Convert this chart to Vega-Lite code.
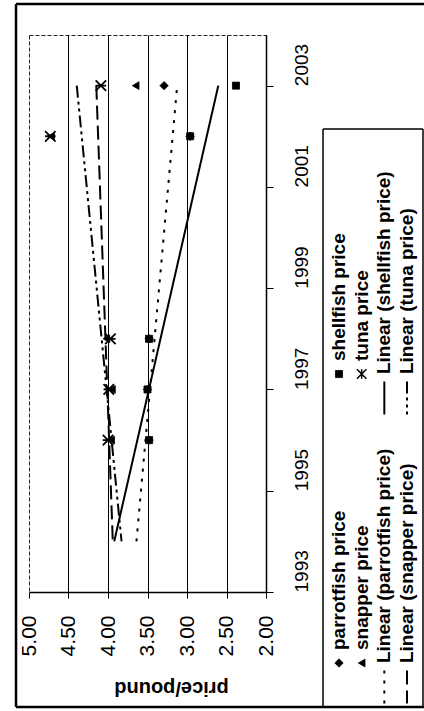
{
  "$schema": "https://vega.github.io/schema/vega-lite/v6.json",
  "background": "white",
  "padding": {"left": 14, "top": 2, "right": 0, "bottom": 0},
  "bounds": "flush",
  "spacing": 57,
  "config": {
    "font": "Liberation Sans",
    "axis": {"labelColor": "black", "titleColor": "black", "domainColor": "black", "tickColor": "black", "labelFlush": false, "labelBound": false, "labelOverlap": false}
  },
  "datasets": {
    "prices": [
      {"series": "shellfish", "year": 1996, "price": 3.48},
      {"series": "shellfish", "year": 1997, "price": 3.50},
      {"series": "shellfish", "year": 1998, "price": 3.48},
      {"series": "shellfish", "year": 2002, "price": 2.96},
      {"series": "shellfish", "year": 2003, "price": 2.38},
      {"series": "snapper", "year": 1996, "price": 3.96},
      {"series": "snapper", "year": 1997, "price": 3.95},
      {"series": "snapper", "year": 1998, "price": 4.02},
      {"series": "snapper", "year": 2002, "price": 4.72},
      {"series": "snapper", "year": 2003, "price": 3.65},
      {"series": "parrotfish", "year": 1996, "price": 3.48},
      {"series": "parrotfish", "year": 1997, "price": 3.50},
      {"series": "parrotfish", "year": 1998, "price": 3.48},
      {"series": "parrotfish", "year": 2002, "price": 2.96},
      {"series": "parrotfish", "year": 2003, "price": 3.29},
      {"series": "tuna", "year": 1996, "price": 4.00},
      {"series": "tuna", "year": 1997, "price": 3.99},
      {"series": "tuna", "year": 1998, "price": 3.97},
      {"series": "tuna", "year": 2002, "price": 4.73},
      {"series": "tuna", "year": 2003, "price": 4.09}
    ],
    "legend": [
      {"label": "parrotfish price", "series": "parrotfish", "kind": "marker", "legendRow": 0, "legendCol": 0},
      {"label": "snapper price", "series": "snapper", "kind": "marker", "legendRow": 1, "legendCol": 0},
      {"label": "Linear (parrotfish price)", "series": "parrotfish", "kind": "trend", "legendRow": 2, "legendCol": 0},
      {"label": "Linear (snapper price)", "series": "snapper", "kind": "trend", "legendRow": 3, "legendCol": 0},
      {"label": "shellfish price", "series": "shellfish", "kind": "marker", "legendRow": 0, "legendCol": 1},
      {"label": "tuna price", "series": "tuna", "kind": "marker", "legendRow": 1, "legendCol": 1},
      {"label": "Linear (shellfish price)", "series": "shellfish", "kind": "trend", "legendRow": 2, "legendCol": 1},
      {"label": "Linear (tuna price)", "series": "tuna", "kind": "trend", "legendRow": 3, "legendCol": 1}
    ]
  },
  "hconcat": [
    {
      "width": 237,
      "height": 557,
      "view": {"stroke": "#222", "strokeDash": [4, 2], "strokeWidth": 1},
      "data": {"name": "prices"},
      "layer": [
        {
          "transform": [{"filter": "datum.series !== 'tuna'"}],
          "mark": {"type": "point", "filled": true, "opacity": 1, "color": "black", "stroke": "black", "strokeWidth": 0.8},
          "encoding": {
            "x": {
              "field": "price", "type": "quantitative",
              "scale": {"domain": [2, 5], "reverse": true, "nice": false, "zero": false},
              "axis": {
                "orient": "bottom",
                "values": [2, 2.5, 3, 3.5, 4, 4.5, 5],
                "tickCount": 7,
                "format": ".2f",
                "labelAngle": 270,
                "labelAlign": "right",
                "labelBaseline": "middle",
                "labelFontSize": 21,
                "labelPadding": 17,
                "tickSize": 6,
                "domainWidth": 1.5,
                "grid": true,
                "gridColor": "black",
                "gridWidth": 1,
                "gridOpacity": {"condition": {"test": "datum.value >= 4.99", "value": 0}, "value": 1},
                "title": "price/pound",
                "titleAngle": 180,
                "titleBaseline": "bottom",
                "titleFontSize": 20,
                "titleFontWeight": "bold",
                "titlePadding": 22,
                "titleX": 142
              }
            },
            "y": {
              "field": "year", "type": "quantitative",
              "scale": {"domain": [1993, 2004], "nice": false, "zero": false},
              "axis": {
                "orient": "right",
                "values": [1993, 1995, 1997, 1999, 2001, 2003],
                "format": "d",
                "labelAngle": 270,
                "labelAlign": "left",
                "labelBaseline": "top",
                "labelFontSize": 19,
                "labelPadding": 19,
                "tickSize": 7,
                "domainWidth": 1.5,
                "grid": false,
                "title": null
              }
            },
            "shape": {"field": "series", "type": "nominal", "scale": {"domain": ["parrotfish", "snapper", "shellfish"], "range": ["diamond", "triangle-left", "square"]}, "legend": null},
            "size": {"field": "series", "type": "ordinal", "scale": {"domain": ["parrotfish", "snapper", "shellfish"], "range": [70, 50, 42]}, "legend": null}
          }
        },
        {
          "transform": [{"filter": "datum.series === 'tuna'"}],
          "mark": {"type": "point", "shape": "M-1,-1L1,1M-1,1L1,-1M-1,0L1,0", "filled": false, "opacity": 1, "color": "black", "strokeWidth": 1.8, "size": 110},
          "encoding": {
            "x": {"field": "price", "type": "quantitative", "scale": {"domain": [2, 5], "reverse": true, "nice": false, "zero": false}},
            "y": {"field": "year", "type": "quantitative", "scale": {"domain": [1993, 2004], "nice": false, "zero": false}}
          }
        },
        {
          "transform": [{"regression": "price", "on": "year", "groupby": ["series"], "extent": [1994, 2003]}],
          "mark": {"type": "line", "color": "black", "strokeWidth": 2},
          "encoding": {
            "x": {"field": "price", "type": "quantitative", "scale": {"domain": [2, 5], "reverse": true, "nice": false, "zero": false}},
            "y": {"field": "year", "type": "quantitative", "scale": {"domain": [1993, 2004], "nice": false, "zero": false}},
            "strokeDash": {"field": "series", "type": "nominal", "scale": {"domain": ["parrotfish", "snapper", "shellfish", "tuna"], "range": [[3, 7], [14, 6], [1, 0], [12, 4, 3, 4, 3, 4]]}, "legend": null}
          }
        }
      ]
    },
    {
      "width": 100,
      "height": 672,
      "view": {"stroke": null},
      "data": {"name": "legend"},
      "layer": [
        {
          "data": {"values": [{}]},
          "mark": {"type": "rule", "color": "black", "strokeWidth": 2.5},
          "encoding": {
            "x": {"datum": -14.25, "type": "quantitative", "scale": {"domain": [-0.706, 3.706], "nice": false, "zero": false}, "axis": null},
            "y": {"datum": -0.1522, "type": "quantitative", "scale": {"domain": [-0.1522, 2.1731], "nice": false, "zero": false}, "axis": null},
            "y2": {"datum": 2.2804}
          }
        },
        {
          "data": {"values": [{}]},
          "mark": {"type": "rule", "color": "black", "strokeWidth": 2.5},
          "encoding": {
            "x": {"datum": -14.25, "type": "quantitative", "scale": {"domain": [-0.706, 3.706], "nice": false, "zero": false}, "axis": null},
            "x2": {"datum": 3.75},
            "y": {"datum": 2.2804, "type": "quantitative", "scale": {"domain": [-0.1522, 2.1731], "nice": false, "zero": false}, "axis": null}
          }
        },
        {
          "data": {"values": [{}]},
          "mark": {"type": "rule", "color": "black", "strokeWidth": 2.5},
          "encoding": {
            "x": {"datum": -14.25, "type": "quantitative", "scale": {"domain": [-0.706, 3.706], "nice": false, "zero": false}, "axis": null},
            "x2": {"datum": 3.75},
            "y": {"datum": -0.1522, "type": "quantitative", "scale": {"domain": [-0.1522, 2.1731], "nice": false, "zero": false}, "axis": null}
          }
        },
        {
          "data": {"values": [{}]},
          "mark": {"type": "rule", "color": "black", "strokeWidth": 1.5},
          "encoding": {
            "x": {"datum": -0.706, "type": "quantitative", "scale": {"domain": [-0.706, 3.706], "nice": false, "zero": false}, "axis": null},
            "x2": {"datum": 3.706},
            "y": {"datum": 1.8478, "type": "quantitative", "scale": {"domain": [-0.1522, 2.1731], "nice": false, "zero": false}, "axis": null}
          }
        },
        {
          "data": {"values": [{}]},
          "mark": {"type": "rule", "color": "black", "strokeWidth": 1.5},
          "encoding": {
            "x": {"datum": -0.706, "type": "quantitative", "scale": {"domain": [-0.706, 3.706], "nice": false, "zero": false}, "axis": null},
            "y": {"datum": -0.1522, "type": "quantitative", "scale": {"domain": [-0.1522, 2.1731], "nice": false, "zero": false}, "axis": null},
            "y2": {"datum": 1.8478}
          }
        },
        {
          "data": {"values": [{}]},
          "mark": {"type": "rule", "color": "black", "strokeWidth": 1.5},
          "encoding": {
            "x": {"datum": 3.706, "type": "quantitative", "scale": {"domain": [-0.706, 3.706], "nice": false, "zero": false}, "axis": null},
            "y": {"datum": -0.1522, "type": "quantitative", "scale": {"domain": [-0.1522, 2.1731], "nice": false, "zero": false}, "axis": null},
            "y2": {"datum": 1.8478}
          }
        },
        {
          "transform": [{"filter": "datum.kind === 'marker' && datum.series !== 'tuna'"}],
          "mark": {"type": "point", "filled": true, "opacity": 1, "color": "black", "stroke": "black", "strokeWidth": 0.8},
          "encoding": {
            "x": {"field": "legendRow", "type": "quantitative", "scale": {"domain": [-0.706, 3.706], "nice": false, "zero": false}, "axis": null},
            "y": {"field": "legendCol", "type": "quantitative", "scale": {"domain": [-0.1522, 2.1731], "nice": false, "zero": false}, "axis": null},
            "shape": {"field": "series", "type": "nominal", "scale": {"domain": ["parrotfish", "snapper", "shellfish"], "range": ["diamond", "triangle-up", "square"]}, "legend": null},
            "size": {"field": "series", "type": "ordinal", "scale": {"domain": ["parrotfish", "snapper", "shellfish"], "range": [60, 45, 40]}, "legend": null}
          }
        },
        {
          "transform": [{"filter": "datum.kind === 'marker' && datum.series === 'tuna'"}],
          "mark": {"type": "point", "shape": "M-1,-1L1,1M-1,1L1,-1M0,-1L0,1", "filled": false, "opacity": 1, "color": "black", "strokeWidth": 1.5, "size": 90},
          "encoding": {
            "x": {"field": "legendRow", "type": "quantitative", "scale": {"domain": [-0.706, 3.706], "nice": false, "zero": false}, "axis": null},
            "y": {"field": "legendCol", "type": "quantitative", "scale": {"domain": [-0.1522, 2.1731], "nice": false, "zero": false}, "axis": null}
          }
        },
        {
          "transform": [{"filter": "datum.kind === 'trend'"}],
          "mark": {"type": "point", "shape": "M0,-1L0,1", "filled": false, "opacity": 1, "color": "black", "strokeWidth": 2, "size": 1089, "yOffset": 24},
          "encoding": {
            "x": {"field": "legendRow", "type": "quantitative", "scale": {"domain": [-0.706, 3.706], "nice": false, "zero": false}, "axis": null},
            "y": {"field": "legendCol", "type": "quantitative", "scale": {"domain": [-0.1522, 2.1731], "nice": false, "zero": false}, "axis": null},
            "strokeDash": {"field": "series", "type": "nominal", "scale": {"domain": ["parrotfish", "snapper", "shellfish", "tuna"], "range": [[3, 7], [14, 6], [1, 0], [12, 4, 3, 4, 3, 4]]}, "legend": null}
          }
        },
        {
          "transform": [{"filter": "datum.kind === 'marker'"}],
          "mark": {"type": "text", "angle": 270, "align": "left", "baseline": "middle", "dx": 13, "fontSize": 19, "fontWeight": "bold", "color": "black"},
          "encoding": {
            "x": {"field": "legendRow", "type": "quantitative", "scale": {"domain": [-0.706, 3.706], "nice": false, "zero": false}, "axis": null},
            "y": {"field": "legendCol", "type": "quantitative", "scale": {"domain": [-0.1522, 2.1731], "nice": false, "zero": false}, "axis": null},
            "text": {"field": "label"}
          }
        },
        {
          "transform": [{"filter": "datum.kind === 'trend'"}],
          "mark": {"type": "text", "angle": 270, "align": "left", "baseline": "middle", "dx": 0, "fontSize": 19, "fontWeight": "bold", "color": "black"},
          "encoding": {
            "x": {"field": "legendRow", "type": "quantitative", "scale": {"domain": [-0.706, 3.706], "nice": false, "zero": false}, "axis": null},
            "y": {"field": "legendCol", "type": "quantitative", "scale": {"domain": [-0.1522, 2.1731], "nice": false, "zero": false}, "axis": null},
            "text": {"field": "label"}
          }
        }
      ]
    }
  ]
}
